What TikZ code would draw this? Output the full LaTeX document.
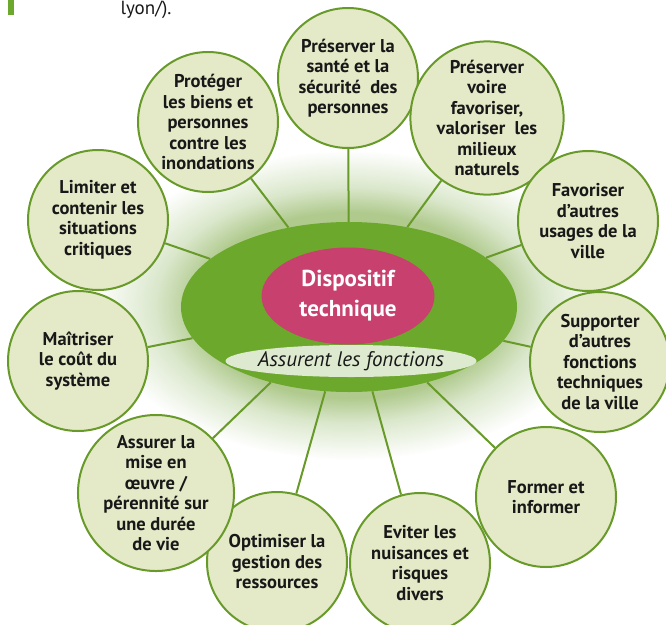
\documentclass[tikz,border=0pt]{standalone}
\usepackage{fontspec}
\setmainfont{PT Sans}
\usetikzlibrary{shapes.geometric}

\definecolor{vertfonce}{RGB}{104,154,42}
\definecolor{vertvif}{RGB}{108,168,44}
\definecolor{vertpale}{RGB}{228,234,200}
\definecolor{vertclair}{RGB}{222,234,208}
\definecolor{rose}{RGB}{200,64,110}
\definecolor{haloin}{RGB}{176,202,142}
\definecolor{halomi}{RGB}{218,231,203}
\definecolor{texte}{RGB}{24,24,24}

% radial glow, edge of the path at 25bp
\pgfdeclareradialshading{halo}{\pgfpoint{0bp}{0bp}}{color(0bp)=(haloin); color(15bp)=(haloin); color(19bp)=(halomi); color(25bp)=(white); color(50bp)=(white)}

\begin{document}
\begin{tikzpicture}[x=1pt, y=-1pt,
  fonction/.style={circle, draw=vertfonce, line width=2pt, fill=vertpale,
    minimum size=140pt, inner sep=0pt, align=center, text=texte,
    font=\bfseries\fontsize{18.5}{20.5}\selectfont},
  lien/.style={vertfonce, line width=2pt}]
  \useasboundingbox (0,0) rectangle (666,624);

  % Top of the page: end of the previous paragraph
  \fill[vertvif] (8,0) rectangle (14,15);
  \node[anchor=base west, font=\fontsize{19}{22}\selectfont, text=texte] (lyon) at (117,14) {lyon/).};

  % Soft halo behind the central ellipse
  \shade[shading=halo] (349,305) ellipse [x radius=255pt, y radius=155pt];

  % Central ellipse
  \node[ellipse, fill=vertvif, minimum width=336pt, minimum height=170pt, inner sep=0pt] (disp) at (349,307) {};
  \node[ellipse, fill=rose, minimum width=173pt, minimum height=97pt, inner sep=0pt,
    text=white, align=center, font=\bfseries\fontsize{23}{30}\selectfont] (techno) at (348,296) {Dispositif\\technique};
  \fill[vertclair] (351,361) ellipse [x radius=125.5pt, y radius=16pt];
  \node[font=\itshape\fontsize{21}{24}\selectfont, text=texte] (fonctions) at (351,361) {Assurent les fonctions};

  % Functions around it
  \foreach \nm/\x/\y/\txt in {
    sante/348/78/{Préserver la\\santé et la\\sécurité~ des\\personnes},
    milieux/487/118/{Préserver\\voire\\favoriser,\\valoriser~ les\\milieux\\naturels},
    usages/588/221/{Favoriser\\d’autres\\usages de la\\ville},
    supporter/600/362/{Supporter\\d'autres\\fonctions\\techniques\\de la ville},
    former/546/497/{Former et\\informer},
    eviter/420/563/{Eviter les\\nuisances et\\risques\\divers},
    optimiser/277/562/{Optimiser la\\gestion des\\ressources},
    assurer/156/493/{Assurer la\\mise en\\œuvre /\\pérennité sur\\une durée\\de vie},
    maitriser/78/361/{Maîtriser\\le coût du\\système},
    limiter/98/220/{Limiter et\\contenir les\\situations\\critiques},
    proteger/208/122/{Protéger\\les biens et\\personnes\\contre les\\inondations}} {
    \node[fonction] (\nm) at (\x,\y) {\txt};
    \draw[lien] (\nm) -- (disp);
  }
\end{tikzpicture}
\end{document}
